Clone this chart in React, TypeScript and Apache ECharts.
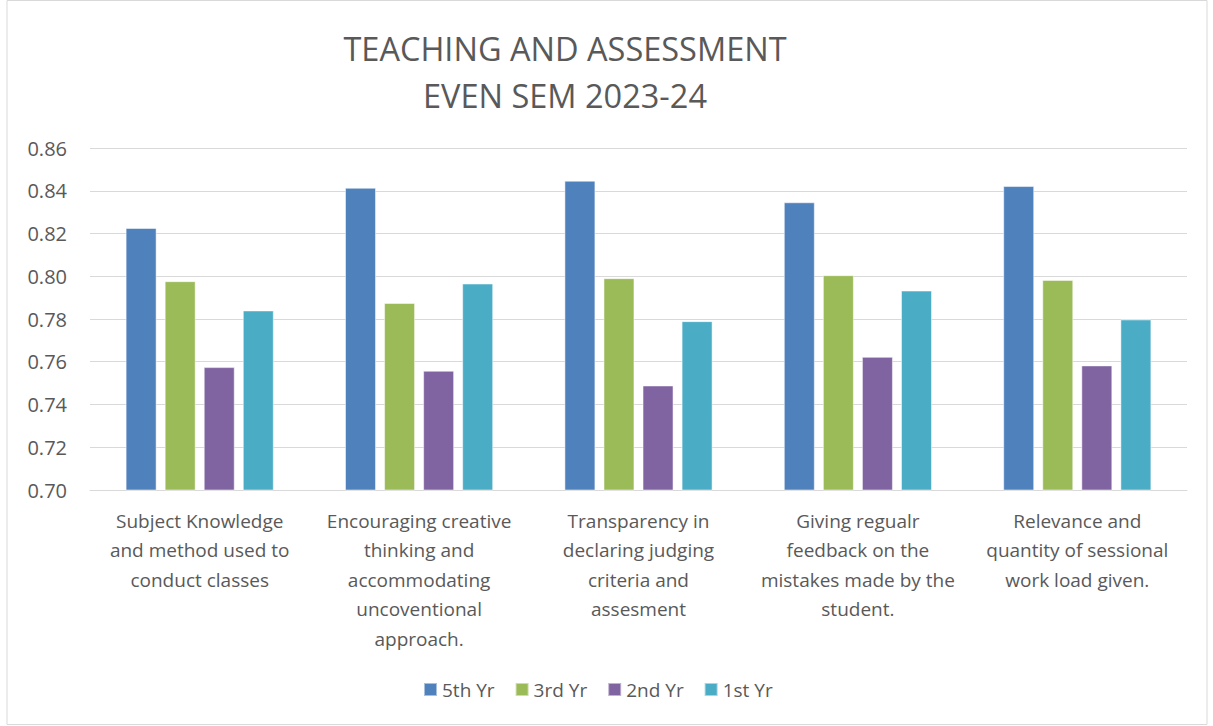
import React, { useEffect, useRef } from "react";
import * as echarts from "echarts";

const categories = [
  "Subject Knowledge\nand method used to\nconduct classes",
  "Encouraging creative\nthinking and\naccommodating\nuncoventional\napproach.",
  "Transparency in\ndeclaring judging\ncriteria and\nassesment",
  "Giving regualr\nfeedback on the\nmistakes made by the\nstudent.",
  "Relevance and\nquantity of sessional\nwork load given.",
];
const seriesNames = ["5th Yr", "3rd Yr", "2nd Yr", "1st Yr"];
const yr5 = [0.8226, 0.8414, 0.8447, 0.8346, 0.8422];
const yr3 = [0.7977, 0.7875, 0.7991, 0.8005, 0.7983];
const yr2 = [0.7575, 0.7558, 0.7489, 0.7623, 0.7583];
const yr1 = [0.784, 0.7966, 0.779, 0.7933, 0.7798];
const colors = ["#4f81bd", "#9bbb59", "#8064a2", "#4bacc6"];
const yTicks = { min: 0.7, max: 0.86, interval: 0.02 };
const titleLines = ["TEACHING AND ASSESSMENT", "EVEN SEM 2023-24"];

const FONT = "'Open Sans', 'Noto Sans', sans-serif";

export default function App() {
  const ref = useRef<HTMLDivElement>(null);
  useEffect(() => {
    if (!ref.current) return;
    const chart = echarts.init(ref.current, null, { renderer: "svg" });
    const data = [yr5, yr3, yr2, yr1];
    chart.setOption({
      animation: false,
      backgroundColor: "#ffffff",
      textStyle: { fontFamily: FONT },
      graphic: [
        {
          type: "rect",
          shape: { x: 7, y: 0.5, width: 1200, height: 724 },
          style: { fill: "none", stroke: "#d9d9d9", lineWidth: 1 },
          silent: true,
        },
        ...titleLines.map((t, i) => ({
          type: "text",
          x: 565,
          y: 48 + i * 47,
          style: {
            text: t,
            fill: "#595959",
            font: `32.5px ${FONT}`,
            textAlign: "center",
            textVerticalAlign: "middle",
          },
        })),
      ],
      grid: { left: 90, right: 26, top: 148, bottom: 236, containLabel: false },
      legend: {
        bottom: 22,
        left: 418,
        icon: "rect",
        itemWidth: 13,
        itemHeight: 13,
        itemGap: 20,
        textStyle: { color: "#595959", fontSize: 19, fontFamily: FONT },
        data: seriesNames,
      },
      xAxis: {
        type: "category",
        data: categories,
        axisLine: { lineStyle: { color: "#d9d9d9", width: 1 } },
        axisTick: { show: false },
        axisLabel: {
          color: "#595959",
          fontSize: 19,
          lineHeight: 29.5,
          margin: 16,
          interval: 0,
          fontFamily: FONT,
        },
      },
      yAxis: {
        type: "value",
        min: yTicks.min,
        max: yTicks.max,
        interval: yTicks.interval,
        axisLine: { show: false },
        axisTick: { show: false },
        splitLine: { lineStyle: { color: "#d9d9d9", width: 1 } },
        axisLabel: {
          color: "#595959",
          fontSize: 20,
          margin: 23,
          fontFamily: FONT,
          formatter: (v: number) => v.toFixed(2),
        },
      },
      series: seriesNames.map((name, i) => ({
        name,
        type: "bar",
        data: data[i],
        barWidth: 31,
        barGap: "26%",
        itemStyle: {
          color: colors[i],
          borderColor: "rgba(255,255,255,0.5)",
          borderWidth: 1,
        },
      })),
    });
    return () => chart.dispose();
  }, []);
  return (
    <div
      ref={ref}
      style={{ position: "absolute", left: 0, top: 0, width: 1213, height: 726 }}
    />
  );
}
